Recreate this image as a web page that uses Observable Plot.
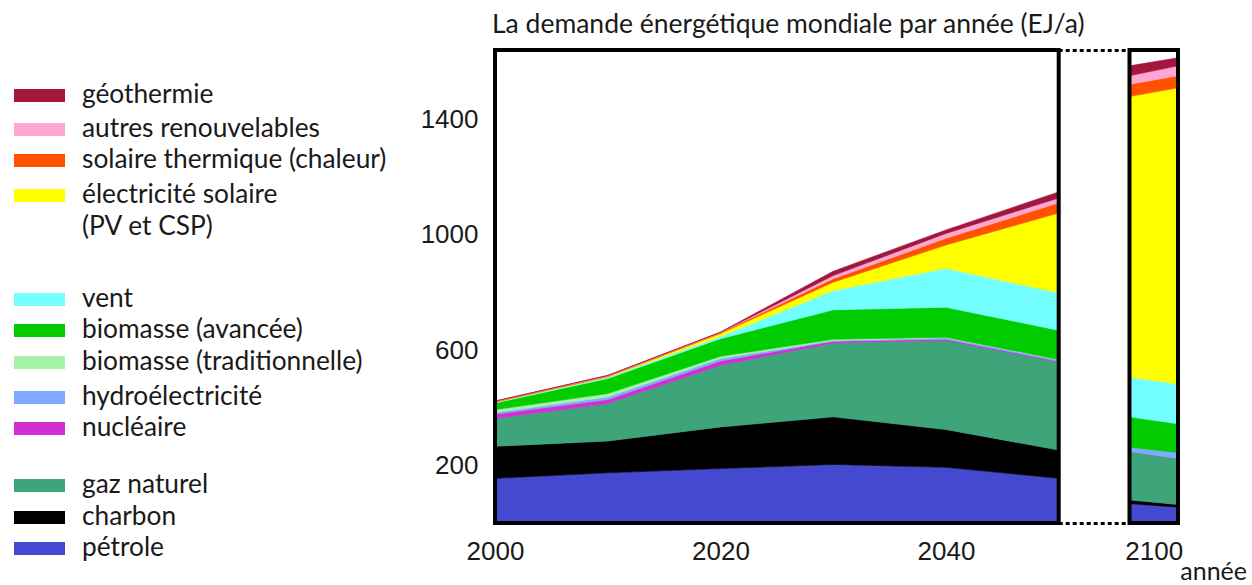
<!DOCTYPE html>
<html>
<head>
<meta charset="utf-8">
<script src="https://cdn.jsdelivr.net/npm/d3@7"></script>
<script src="https://cdn.jsdelivr.net/npm/@observablehq/plot@0.6"></script>
<style>
  body { margin: 0; background: #fff; }
  #wrap { position: relative; width: 1252px; height: 585px; overflow: hidden; }
  #wrap > svg { position: absolute; left: 0; top: 0; }
</style>
</head>
<body>
<div id="wrap"></div>
<script>
// ---- categories (stack order, bottom to top) ----
const sources = [
  "pétrole", "charbon", "gaz naturel", "nucléaire", "hydroélectricité",
  "biomasse (traditionnelle)", "biomasse (avancée)", "vent",
  "électricité solaire (PV et CSP)", "solaire thermique (chaleur)",
  "autres renouvelables", "géothermie"
];
const colors = [
  "#4549d0", "#000000", "#3ea47a", "#d22fd2", "#7eaaff",
  "#a6f2aa", "#00cc00", "#73ffff",
  "#ffff00", "#ff5200",
  "#ffa6d2", "#a3173f"
];

// ---- x values ----
const years = [2000, 2010, 2020, 2030, 2040, 2050];
const panelYears = [2097.5, 2102.5];   // edges of the 2100 window
const xTicks = [2000, 2020, 2040, 2100];
const yTicks = [200, 600, 1000, 1400];
const yMax = 1640;

// ---- series values, EJ/a (2000..2050) ----
const petrole          = [155, 174, 189, 203, 193, 155];
const charbon          = [111, 110, 144, 165, 131, 98];
const gaz              = [96, 130, 214, 256, 309, 305];
const nucleaire        = [15, 14, 15, 6, 4, 3];
const hydro            = [6, 9, 8, 3, 5, 5];
const bioTrad          = [10, 12, 8, 4, 2, 1];
const bioAvancee       = [23, 52, 61, 102, 104, 101];
const vent             = [2, 4, 8, 67, 135, 130];
const elecSolaire      = [1, 2, 10, 29, 81, 277];
const solaireThermique = [2, 3, 3, 12, 23, 35];
const autres           = [1, 1, 1, 11, 17, 17];
const geothermie       = [1, 1, 1, 15, 12, 21];

// ---- 2100 window (left edge, right edge) ----
const petrole2100          = [67, 55];
const charbon2100          = [13, 9];
const gaz2100              = [168, 160];
const nucleaire2100        = [0, 0];
const hydro2100            = [15, 20];
const bioTrad2100          = [0, 0];
const bioAvancee2100       = [105, 100];
const vent2100             = [138, 138];
const elecSolaire2100      = [973, 1027];
const solaireThermique2100 = [42, 42];
const autres2100           = [30, 34];
const geothermie2100       = [34, 28];

const mainSeries = [petrole, charbon, gaz, nucleaire, hydro, bioTrad, bioAvancee, vent,
  elecSolaire, solaireThermique, autres, geothermie];
const panelSeries = [petrole2100, charbon2100, gaz2100, nucleaire2100, hydro2100, bioTrad2100,
  bioAvancee2100, vent2100, elecSolaire2100, solaireThermique2100, autres2100, geothermie2100];

const mainRows = sources.flatMap((s, i) => years.map((year, j) => ({source: s, year, value: mainSeries[i][j]})));
const panelRows = sources.flatMap((s, i) =>
  panelSeries[i].some(v => v > 0) ? panelYears.map((year, j) => ({source: s, year, value: panelSeries[i][j]})) : []);

const frames = [
  {x1: years[0], x2: years[years.length - 1]},
  {x1: panelYears[0], x2: panelYears[1]}
];

const areaOpts = {x: "year", y: "value", z: "source", fill: "source", stroke: "source", strokeWidth: 0.6, order: sources};

const chart = Plot.plot({
  width: 1252,
  height: 585,
  marginLeft: 495,
  marginRight: 74,
  marginTop: 50,
  marginBottom: 62,
  x: {type: "linear", label: null,
      domain: [years[0], years[years.length - 1], panelYears[0], panelYears[1]],
      range: [495, 1058.7, 1129.5, 1178]},
  y: {label: null, domain: [0, yMax], range: [523, 50]},
  color: {domain: sources, range: colors},
  style: {fontFamily: "'Liberation Sans', Arial, sans-serif", fontSize: "26px", color: "#1a1a1a", background: "transparent", overflow: "visible"},
  marks: [
    Plot.areaY(mainRows, areaOpts),
    Plot.areaY(panelRows, areaOpts),
    Plot.ruleY([0, yMax], {x1: years[years.length - 1], x2: panelYears[0], stroke: "black", strokeWidth: 3, strokeDasharray: "4,3"}),
    Plot.rect(frames, {x1: "x1", x2: "x2", y1: 0, y2: yMax, fill: "none", stroke: "black", strokeWidth: 4}),
    Plot.axisX(xTicks, {tickSize: 0, tickPadding: 18, tickFormat: d => String(d), fontSize: 26}),
    Plot.axisY(yTicks, {tickSize: 0, tickPadding: 17, tickFormat: d => String(d), fontSize: 26})
  ]
});
document.getElementById("wrap").appendChild(chart);

// ---- legend, title, axis name (overlay) ----
const legendItems = [
  {label: "géothermie", src: "géothermie", base: 103},
  {label: "autres renouvelables", src: "autres renouvelables", base: 137},
  {label: "solaire thermique (chaleur)", src: "solaire thermique (chaleur)", base: 168},
  {label: "électricité solaire", src: "électricité solaire (PV et CSP)", base: 203},
  {label: "(PV et CSP)", src: null, base: 235},
  {label: "vent", src: "vent", base: 307},
  {label: "biomasse (avancée)", src: "biomasse (avancée)", base: 338},
  {label: "biomasse (traditionnelle)", src: "biomasse (traditionnelle)", base: 370},
  {label: "hydroélectricité", src: "hydroélectricité", base: 405},
  {label: "nucléaire", src: "nucléaire", base: 436},
  {label: "gaz naturel", src: "gaz naturel", base: 493},
  {label: "charbon", src: "charbon", base: 525},
  {label: "pétrole", src: "pétrole", base: 556}
];
const ov = d3.create("svg").attr("width", 1252).attr("height", 585)
  .style("font-family", "Lato, 'Open Sans', sans-serif").style("pointer-events", "none");
ov.append("text").attr("x", 492).attr("y", 33).attr("font-size", 26.5).attr("fill", "#1a1a1a")
  .text("La demande énergétique mondiale par année (EJ/a)");
ov.append("text").attr("x", 1247).attr("y", 580).attr("text-anchor", "end").attr("font-size", 25).attr("fill", "#1a1a1a")
  .text("année");
const g = ov.append("g");
legendItems.forEach(it => {
  if (it.src) {
    g.append("rect").attr("x", 14).attr("y", it.base - 14).attr("width", 51).attr("height", 13)
      .attr("fill", colors[sources.indexOf(it.src)]);
  }
  g.append("text").attr("x", 82).attr("y", it.base).attr("font-size", 26.3).attr("fill", "#1a1a1a").text(it.label);
});
document.getElementById("wrap").appendChild(ov.node());
</script>
</body>
</html>
